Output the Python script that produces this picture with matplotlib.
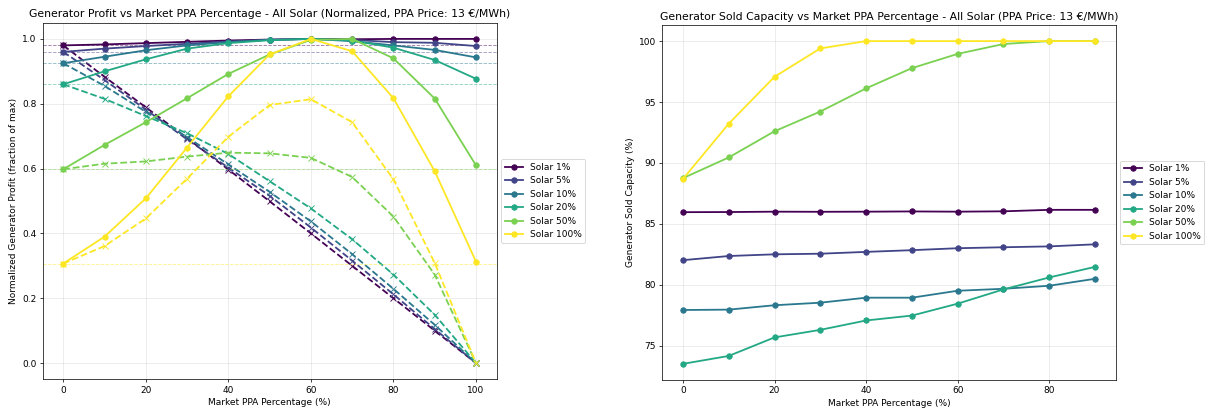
import numpy as np
import matplotlib
matplotlib.use('Agg')
import matplotlib.pyplot as plt

# market PPA share (%)
ppa_pct = [0, 10, 20, 30, 40, 50, 60, 70, 80, 90, 100]
ppa_pct_sold = [0, 10, 20, 30, 40, 50, 60, 70, 80, 90]
labels = ['Solar 1%', 'Solar 5%', 'Solar 10%', 'Solar 20%', 'Solar 50%', 'Solar 100%']

# normalized generator profit (solid lines)
profit_1 = [0.980, 0.983, 0.987, 0.991, 0.995, 0.998, 1.000, 0.999, 1.000, 1.000, 1.000]
profit_5 = [0.960, 0.970, 0.978, 0.985, 0.992, 0.997, 1.000, 0.997, 0.990, 0.988, 0.978]
profit_10 = [0.925, 0.945, 0.965, 0.980, 0.990, 0.997, 1.000, 0.993, 0.980, 0.966, 0.943]
profit_20 = [0.860, 0.900, 0.937, 0.970, 0.987, 0.996, 1.000, 0.995, 0.973, 0.935, 0.877]
profit_50 = [0.598, 0.673, 0.743, 0.817, 0.892, 0.952, 0.997, 1.000, 0.940, 0.816, 0.610]
profit_100 = [0.307, 0.390, 0.508, 0.665, 0.823, 0.952, 1.000, 0.962, 0.817, 0.592, 0.313]

# market part of profit (dashed lines)
market_1 = [0.980, 0.883, 0.789, 0.694, 0.597, 0.499, 0.400, 0.300, 0.200, 0.100, 0.0]
market_5 = [0.960, 0.873, 0.782, 0.690, 0.603, 0.516, 0.418, 0.316, 0.212, 0.105, 0.0]
market_10 = [0.925, 0.855, 0.775, 0.697, 0.613, 0.528, 0.437, 0.336, 0.229, 0.118, 0.0]
market_20 = [0.860, 0.815, 0.762, 0.709, 0.645, 0.561, 0.477, 0.382, 0.273, 0.149, 0.0]
market_50 = [0.598, 0.615, 0.622, 0.637, 0.649, 0.647, 0.633, 0.574, 0.452, 0.273, 0.0]
market_100 = [0.307, 0.361, 0.446, 0.569, 0.698, 0.796, 0.814, 0.743, 0.567, 0.309, 0.0]

# sold capacity (%)
sold_1 = [85.96, 85.97, 86.00, 85.99, 86.00, 86.02, 86.00, 86.03, 86.15, 86.15]
sold_5 = [82.02, 82.36, 82.50, 82.55, 82.70, 82.84, 83.00, 83.08, 83.15, 83.32]
sold_10 = [77.93, 77.96, 78.32, 78.53, 78.94, 78.94, 79.51, 79.67, 79.92, 80.49]
sold_20 = [73.51, 74.16, 75.68, 76.30, 77.07, 77.47, 78.45, 79.62, 80.60, 81.47]
sold_50 = [88.75, 90.45, 92.60, 94.22, 96.12, 97.78, 98.95, 99.76, 100.0, 100.0]
sold_100 = [88.68, 93.22, 97.07, 99.40, 100.0, 100.0, 100.0, 100.0, 100.0, 100.0]

profits = [profit_1, profit_5, profit_10, profit_20, profit_50, profit_100]
markets = [market_1, market_5, market_10, market_20, market_50, market_100]
solds = [sold_1, sold_5, sold_10, sold_20, sold_50, sold_100]
colors = plt.cm.viridis(np.linspace(0, 1, len(labels)))

DPI = 65
fig = plt.figure(figsize=(1208 / DPI, 412 / DPI), dpi=DPI)
ax1 = fig.add_axes([0.0353, 0.0794, 0.3758, 0.8655])
ax2 = fig.add_axes([0.5483, 0.0777, 0.3752, 0.8617])

for i in range(len(labels)):
    ax1.plot(ppa_pct, profits[i], '-o', color=colors[i], linewidth=2, markersize=6, label=labels[i])
    ax1.plot(ppa_pct, markets[i], '--x', color=colors[i], linewidth=2, markersize=6)
    ax1.axhline(profits[i][0], color=colors[i], linestyle='--', linewidth=1, alpha=0.5)

ax1.set_title('Generator Profit vs Market PPA Percentage - All Solar (Normalized, PPA Price: 13 €/MWh)')
ax1.set_xlabel('Market PPA Percentage (%)')
ax1.set_ylabel('Normalized Generator Profit (fraction of max)')
ax1.grid(True, alpha=0.3)
ax1.legend(loc='center left', bbox_to_anchor=(1.0, 0.5))

for i in range(len(labels)):
    ax2.plot(ppa_pct_sold, solds[i], '-o', color=colors[i], linewidth=2, markersize=6, label=labels[i])

ax2.set_title('Generator Sold Capacity vs Market PPA Percentage - All Solar (PPA Price: 13 €/MWh)')
ax2.set_xlabel('Market PPA Percentage (%)')
ax2.set_ylabel('Generator Sold Capacity (%)')
ax2.grid(True, alpha=0.3)
ax2.legend(loc='center left', bbox_to_anchor=(1.0, 0.5))

fig.savefig('out.png', dpi=DPI)
